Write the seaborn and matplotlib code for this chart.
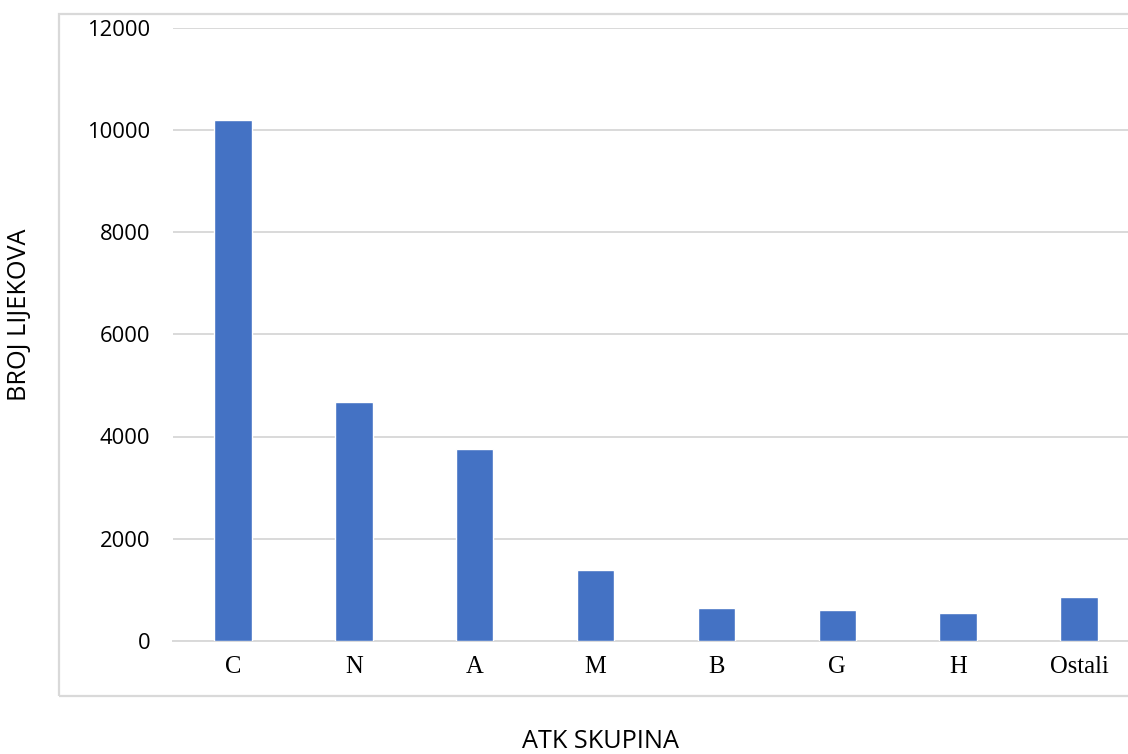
import matplotlib
matplotlib.use("Agg")
import matplotlib.pyplot as plt
import seaborn as sns
import pandas as pd
from matplotlib.patches import Rectangle

# =====================================================
# DATA
# =====================================================

groups = ["C", "N", "A", "M", "B", "G", "H", "Ostali"]
counts = [10190, 4670, 3750, 1390, 640, 600, 550, 860]
y_ticks = [0, 2000, 4000, 6000, 8000, 10000, 12000]

df = pd.DataFrame({"skupina": groups, "broj": counts})

# =====================================================
# FIGURE
# =====================================================

sns.set_style("white")

fig = plt.figure(figsize=(11.28, 7.54), dpi=100)

W, H = 1128, 754
left, right = 172.6, 1139.4
top, bottom = 27.5, 641
ax = fig.add_axes([left / W, 1 - bottom / H, (right - left) / W, (bottom - top) / H])

# outer chart border (clipped at right edge like the reference)
fig.patches.append(Rectangle(
    (59 / W, 1 - 696 / H), 1.2, (696 - 14) / H,
    transform=fig.transFigure, fill=False,
    edgecolor="#d9d9d9", linewidth=1.6, zorder=0
))

sns.barplot(
    data=df,
    x="skupina",
    y="broj",
    color="#4472C4",
    saturation=1,
    width=0.31,
    ax=ax,
    zorder=3
)

ax.set_ylim(0, 12000)
ax.set_xlim(-0.5, len(groups) - 0.5)
ax.set_yticks(y_ticks)
ax.set_yticklabels([str(v) for v in y_ticks], fontsize=15.8,
                   family="Open Sans", color="black")
ax.set_xticks(range(len(groups)))
ax.set_xticklabels(groups, fontsize=17.7, family="Liberation Serif",
                   color="black")

ax.tick_params(axis="y", length=0, pad=16)
ax.tick_params(axis="x", length=0, pad=11)

ax.yaxis.grid(True, color="#d9d9d9", linewidth=1.4, zorder=0)
ax.set_axisbelow(True)

for side in ["top", "right", "left"]:
    ax.spines[side].set_visible(False)
ax.spines["bottom"].set_color("#d9d9d9")
ax.spines["bottom"].set_linewidth(1.4)

ax.set_xlabel("")
ax.set_ylabel("")

fig.text(600 / W, 1 - 741 / H, "ATK SKUPINA", ha="center", va="center",
         fontsize=18.2, family="Open Sans", color="black")
fig.text(20 / W, 1 - 315 / H, "BROJ LIJEKOVA", ha="center", va="center",
         rotation=90, fontsize=18.2, family="Open Sans", color="black")

fig.savefig("out.png", dpi=100)
